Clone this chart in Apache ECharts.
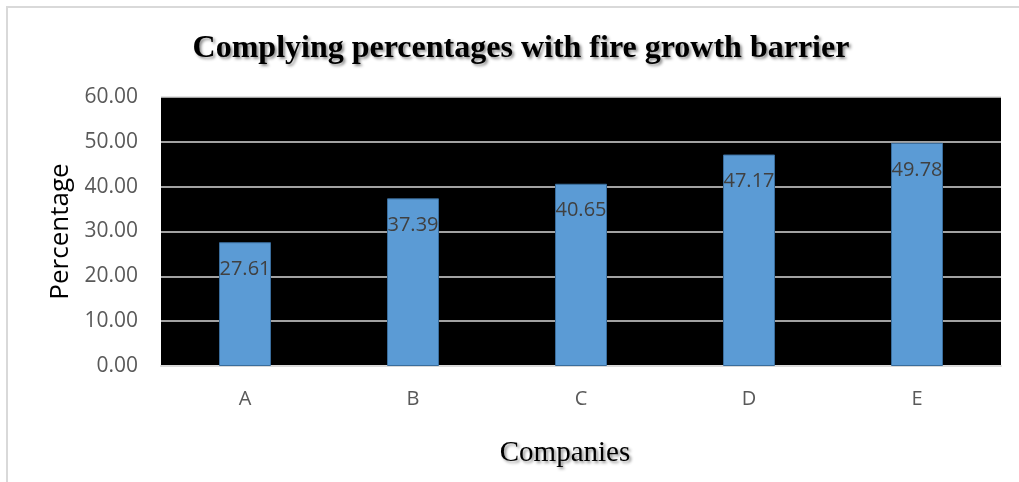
<!DOCTYPE html>
<html>
<head>
<meta charset="utf-8">
<script src="https://cdn.jsdelivr.net/npm/echarts@6/dist/echarts.min.js"></script>
<style>
  html, body { margin: 0; padding: 0; background: #fff; }
  #chart { width: 1019px; height: 482px; }
</style>
</head>
<body>
<div id="chart"></div>
<script>
// Share of companies complying with the fire growth barrier requirement
const companies = ['A', 'B', 'C', 'D', 'E'];
const percentages = [27.61, 37.39, 40.65, 47.17, 49.78];
const yTicks = { min: 0, max: 60, step: 10 };

const chart = echarts.init(document.getElementById('chart'), null, { renderer: 'canvas' });

const serifShadow = {
  textShadowColor: 'rgba(0,0,0,0.45)',
  textShadowBlur: 3,
  textShadowOffsetX: 2,
  textShadowOffsetY: 2
};
const sans = '"Open Sans", "Noto Sans", sans-serif';
const serif = '"Liberation Serif", "DejaVu Serif", serif';

chart.setOption({
  animation: false,
  backgroundColor: '#fff',
  graphic: [{
    type: 'rect',
    shape: { x: 7, y: 7, width: 2000, height: 2000 },
    style: { fill: 'none', stroke: '#d9d9d9', lineWidth: 2 },
    silent: true
  }],
  title: {
    text: 'Complying percentages with fire growth barrier',
    left: 516,
    top: 28,
    textAlign: 'center',
    textStyle: Object.assign({
      fontFamily: serif,
      fontWeight: 'bold',
      fontSize: 32,
      color: '#000'
    }, serifShadow)
  },
  grid: {
    left: 161,
    right: 18,
    top: 97,
    bottom: 116,
    show: true,
    backgroundColor: '#000',
    borderWidth: 0
  },
  xAxis: {
    type: 'category',
    data: companies,
    name: 'Companies',
    nameLocation: 'middle',
    nameGap: 73,
    nameTextStyle: Object.assign({
      fontFamily: serif,
      fontSize: 29,
      color: '#000',
      padding: [0, 32, 0, 0]
    }, serifShadow),
    axisLine: { show: true, lineStyle: { color: '#d9d9d9', width: 2 } },
    axisTick: { show: false },
    axisLabel: {
      margin: 23,
      fontFamily: sans,
      fontSize: 20,
      color: '#595959'
    }
  },
  yAxis: {
    type: 'value',
    min: yTicks.min,
    max: yTicks.max,
    interval: yTicks.step,
    name: 'Percentage',
    nameLocation: 'middle',
    nameGap: 86,
    nameRotate: 90,
    nameTextStyle: {
      fontFamily: sans,
      fontSize: 26,
      color: '#000'
    },
    axisLine: { show: false },
    axisTick: { show: false },
    axisLabel: {
      margin: 23,
      formatter: v => v.toFixed(2),
      fontFamily: sans,
      fontSize: 21,
      color: '#595959'
    },
    splitLine: { show: true, lineStyle: { color: '#d9d9d9', width: 1.5 } }
  },
  series: [{
    type: 'bar',
    data: percentages,
    barWidth: 52,
    itemStyle: { color: '#5b9bd5', borderColor: '#3a6d9c', borderWidth: 1 },
    label: {
      show: true,
      position: 'insideTop',
      distance: 17,
      formatter: p => p.value.toFixed(2),
      fontFamily: sans,
      fontSize: 20,
      color: '#404040'
    }
  }]
});
</script>
</body>
</html>
